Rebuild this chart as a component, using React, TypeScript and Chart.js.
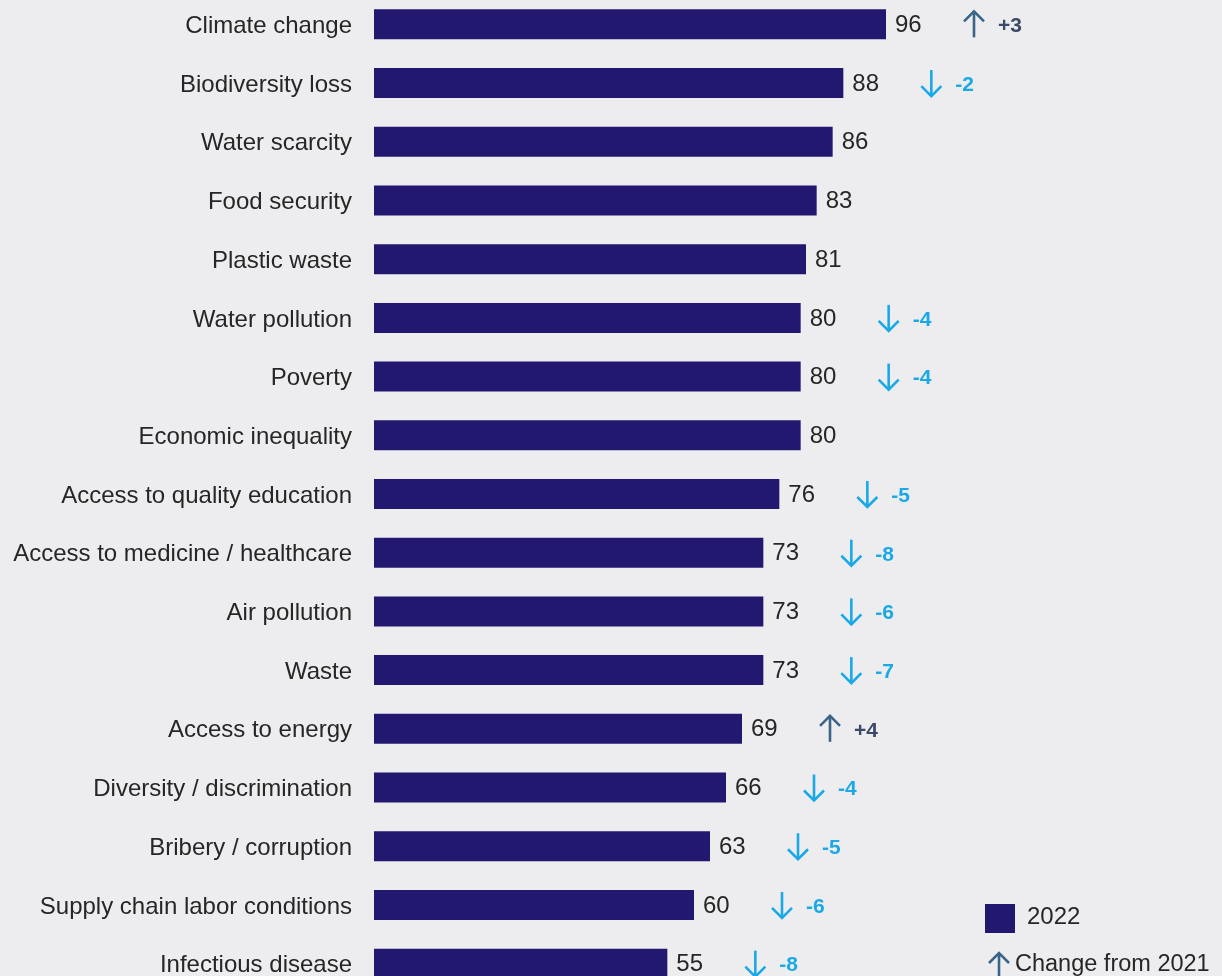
import React, { useEffect, useRef } from "react";
import { Chart, registerables } from "chart.js";

Chart.register(...registerables);

// ---------- data ----------
const categories: string[] = [
  "Climate change",
  "Biodiversity loss",
  "Water scarcity",
  "Food security",
  "Plastic waste",
  "Water pollution",
  "Poverty",
  "Economic inequality",
  "Access to quality education",
  "Access to medicine / healthcare",
  "Air pollution",
  "Waste",
  "Access to energy",
  "Diversity / discrimination",
  "Bribery / corruption",
  "Supply chain labor conditions",
  "Infectious disease",
];
const values2022: number[] = [96, 88, 86, 83, 81, 80, 80, 80, 76, 73, 73, 73, 69, 66, 63, 60, 55];
const changeFrom2021: (number | null)[] = [3, -2, null, null, null, -4, -4, null, -5, -8, -6, -7, 4, -4, -5, -6, -8];
const seriesLabel = "2022";
const changeLabel = "Change from 2021";

// ---------- styles ----------
const FONT = "'Liberation Sans', Arial, Helvetica, sans-serif";
const BG = "#ededf0";
const BAR = "#23186f";
const TEXT = "#262626";
const UP_ARROW = "#3a6488";
const UP_TEXT = "#3b4a68";
const DOWN = "#1aa9e6";

function drawArrow(ctx: CanvasRenderingContext2D, x: number, y: number, up: boolean, color: string) {
  ctx.save();
  ctx.strokeStyle = color;
  ctx.lineWidth = 2.6;
  ctx.lineCap = "butt";
  ctx.lineJoin = "miter";
  const h = 13;
  const tip = up ? y - h : y + h;
  const tail = up ? y + h : y - h;
  const back = up ? tip + 10 : tip - 10;
  ctx.beginPath();
  ctx.moveTo(x, tail);
  ctx.lineTo(x, tip);
  ctx.stroke();
  ctx.beginPath();
  ctx.moveTo(x - 10, back);
  ctx.lineTo(x, tip);
  ctx.lineTo(x + 10, back);
  ctx.stroke();
  ctx.restore();
}

const annotatePlugin = {
  id: "annotate",
  afterDatasetsDraw(chart: any) {
    const ctx: CanvasRenderingContext2D = chart.ctx;
    const meta = chart.getDatasetMeta(0);
    ctx.save();
    ctx.textAlign = "left";
    ctx.textBaseline = "middle";
    meta.data.forEach((bar: any, i: number) => {
      const x = bar.x;
      const y = bar.y;
      ctx.font = `24px ${FONT}`;
      ctx.fillStyle = TEXT;
      ctx.fillText(String(values2022[i]), x + 9, y + 1);
      const c = changeFrom2021[i];
      if (c === null || c === undefined) return;
      const up = c > 0;
      const ax = x + 88;
      drawArrow(ctx, ax, y, up, up ? UP_ARROW : DOWN);
      ctx.font = `bold 21px ${FONT}`;
      ctx.fillStyle = up ? UP_TEXT : DOWN;
      ctx.fillText((up ? "+" : "") + String(c), ax + 24, y + 2);
    });
    ctx.restore();
  },
};

export default function App() {
  const canvasRef = useRef<HTMLCanvasElement | null>(null);

  useEffect(() => {
    if (!canvasRef.current) return;
    const chart = new Chart(canvasRef.current, {
      type: "bar",
      data: {
        labels: categories,
        datasets: [
          {
            label: seriesLabel,
            data: values2022,
            backgroundColor: BAR,
            borderWidth: 0,
            barPercentage: 0.511,
            categoryPercentage: 1,
          },
        ],
      },
      options: {
        indexAxis: "y",
        animation: false,
        responsive: false,
        maintainAspectRatio: false,
        layout: { padding: 0 },
        plugins: {
          legend: { display: false },
          tooltip: { enabled: false },
        },
        scales: {
          x: { display: false, min: 0, max: 159 },
          y: {
            grid: { display: false, drawTicks: false },
            border: { display: false },
            ticks: {
              padding: 22,
              labelOffset: 2,
              color: TEXT,
              autoSkip: false,
              font: { family: FONT, size: 24 },
            },
            afterFit: (s: any) => {
              s.width = 374;
              s.paddingTop = 0;
              s.paddingBottom = 0;
            },
          },
        },
      } as any,
      plugins: [annotatePlugin],
    });
    return () => chart.destroy();
  }, []);

  return (
    <div
      style={{
        position: "fixed",
        left: 0,
        top: 0,
        width: 1222,
        height: 976,
        overflow: "hidden",
        background: BG,
        fontFamily: FONT,
      }}
    >
      <canvas
        ref={canvasRef}
        width={1222}
        height={998}
        style={{ position: "absolute", left: 0, top: -5, width: 1222, height: 998 }}
      />
      <div
        style={{ position: "absolute", left: 985, top: 904, width: 30, height: 29, background: BAR }}
      />
      <div
        style={{
          position: "absolute",
          left: 1027,
          top: 902,
          height: 28,
          lineHeight: "28px",
          fontSize: 24,
          color: TEXT,
          whiteSpace: "nowrap",
        }}
      >
        {seriesLabel}
      </div>
      <svg
        width={24}
        height={30}
        style={{ position: "absolute", left: 987, top: 951 }}
      >
        <path d="M12 2 L12 30 M2 12 L12 2 L22 12" fill="none" stroke={UP_ARROW} strokeWidth={2.6} />
      </svg>
      <div
        style={{
          position: "absolute",
          left: 1015,
          top: 949,
          height: 28,
          lineHeight: "28px",
          fontSize: 23.5,
          color: TEXT,
          whiteSpace: "nowrap",
        }}
      >
        {changeLabel}
      </div>
    </div>
  );
}
